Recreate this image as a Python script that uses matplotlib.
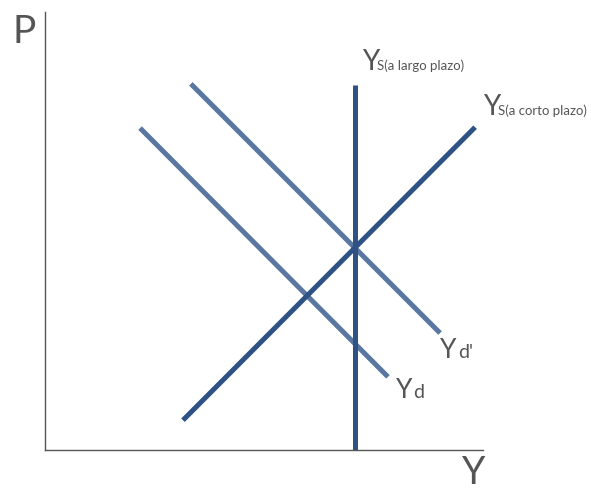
import matplotlib
matplotlib.use("Agg")
import matplotlib.pyplot as plt

# curve endpoints in chart units (axes run 0..10)
lras_x = [7.08, 7.08]
lras_y = [8.33, 0.0]
sras_x = [3.15, 9.82]
sras_y = [0.68, 7.37]
yd_x = [2.17, 7.83]
yd_y = [7.35, 1.67]
ydp_x = [3.33, 9.02]
ydp_y = [8.36, 2.67]

dark = "#2f5285"
light = "#5a77a2"
grey = "#555555"
font = "Lato"

fig = plt.figure(figsize=(5.91, 4.9), dpi=100)
ax = fig.add_axes([45 / 591, 40 / 490, 438 / 591, 438 / 490])
ax.set_xlim(0, 10)
ax.set_ylim(0, 10)

ax.plot(yd_x, yd_y, color=light, lw=3.6, solid_capstyle="butt")
ax.plot(ydp_x, ydp_y, color=light, lw=3.6, solid_capstyle="butt")
ax.plot(sras_x, sras_y, color=dark, lw=3.6, solid_capstyle="butt")
ax.plot(lras_x, lras_y, color=dark, lw=3.6, solid_capstyle="butt", clip_on=False)

for s in ["top", "right"]:
    ax.spines[s].set_visible(False)
for s in ["left", "bottom"]:
    ax.spines[s].set_color(grey)
    ax.spines[s].set_linewidth(1)
ax.set_xticks([])
ax.set_yticks([])

def label(x, y, main, sub, sub_dx, size=20, sub_size=9.5):
    ax.text(x, y, main, fontsize=size, color=grey, family=font, va="baseline", ha="left")
    ax.text(x + sub_dx, y, sub, fontsize=sub_size, color=grey, family=font, va="baseline", ha="left")

label(7.24, 8.68, "Y", "S(a largo plazo)", 0.34)
label(10.0, 7.65, "Y", "S(a corto plazo)", 0.34)
label(9.02, 2.10, "Y", "d'", 0.41, size=19, sub_size=14)
label(8.01, 1.19, "Y", "d", 0.39, size=19, sub_size=14)

ax.text(-0.75, 9.29, "P", fontsize=28, color=grey, family=font, va="baseline")
ax.text(9.52, -0.78, "Y", fontsize=27, color=grey, family=font, va="baseline")

fig.savefig("out.png", dpi=100)
